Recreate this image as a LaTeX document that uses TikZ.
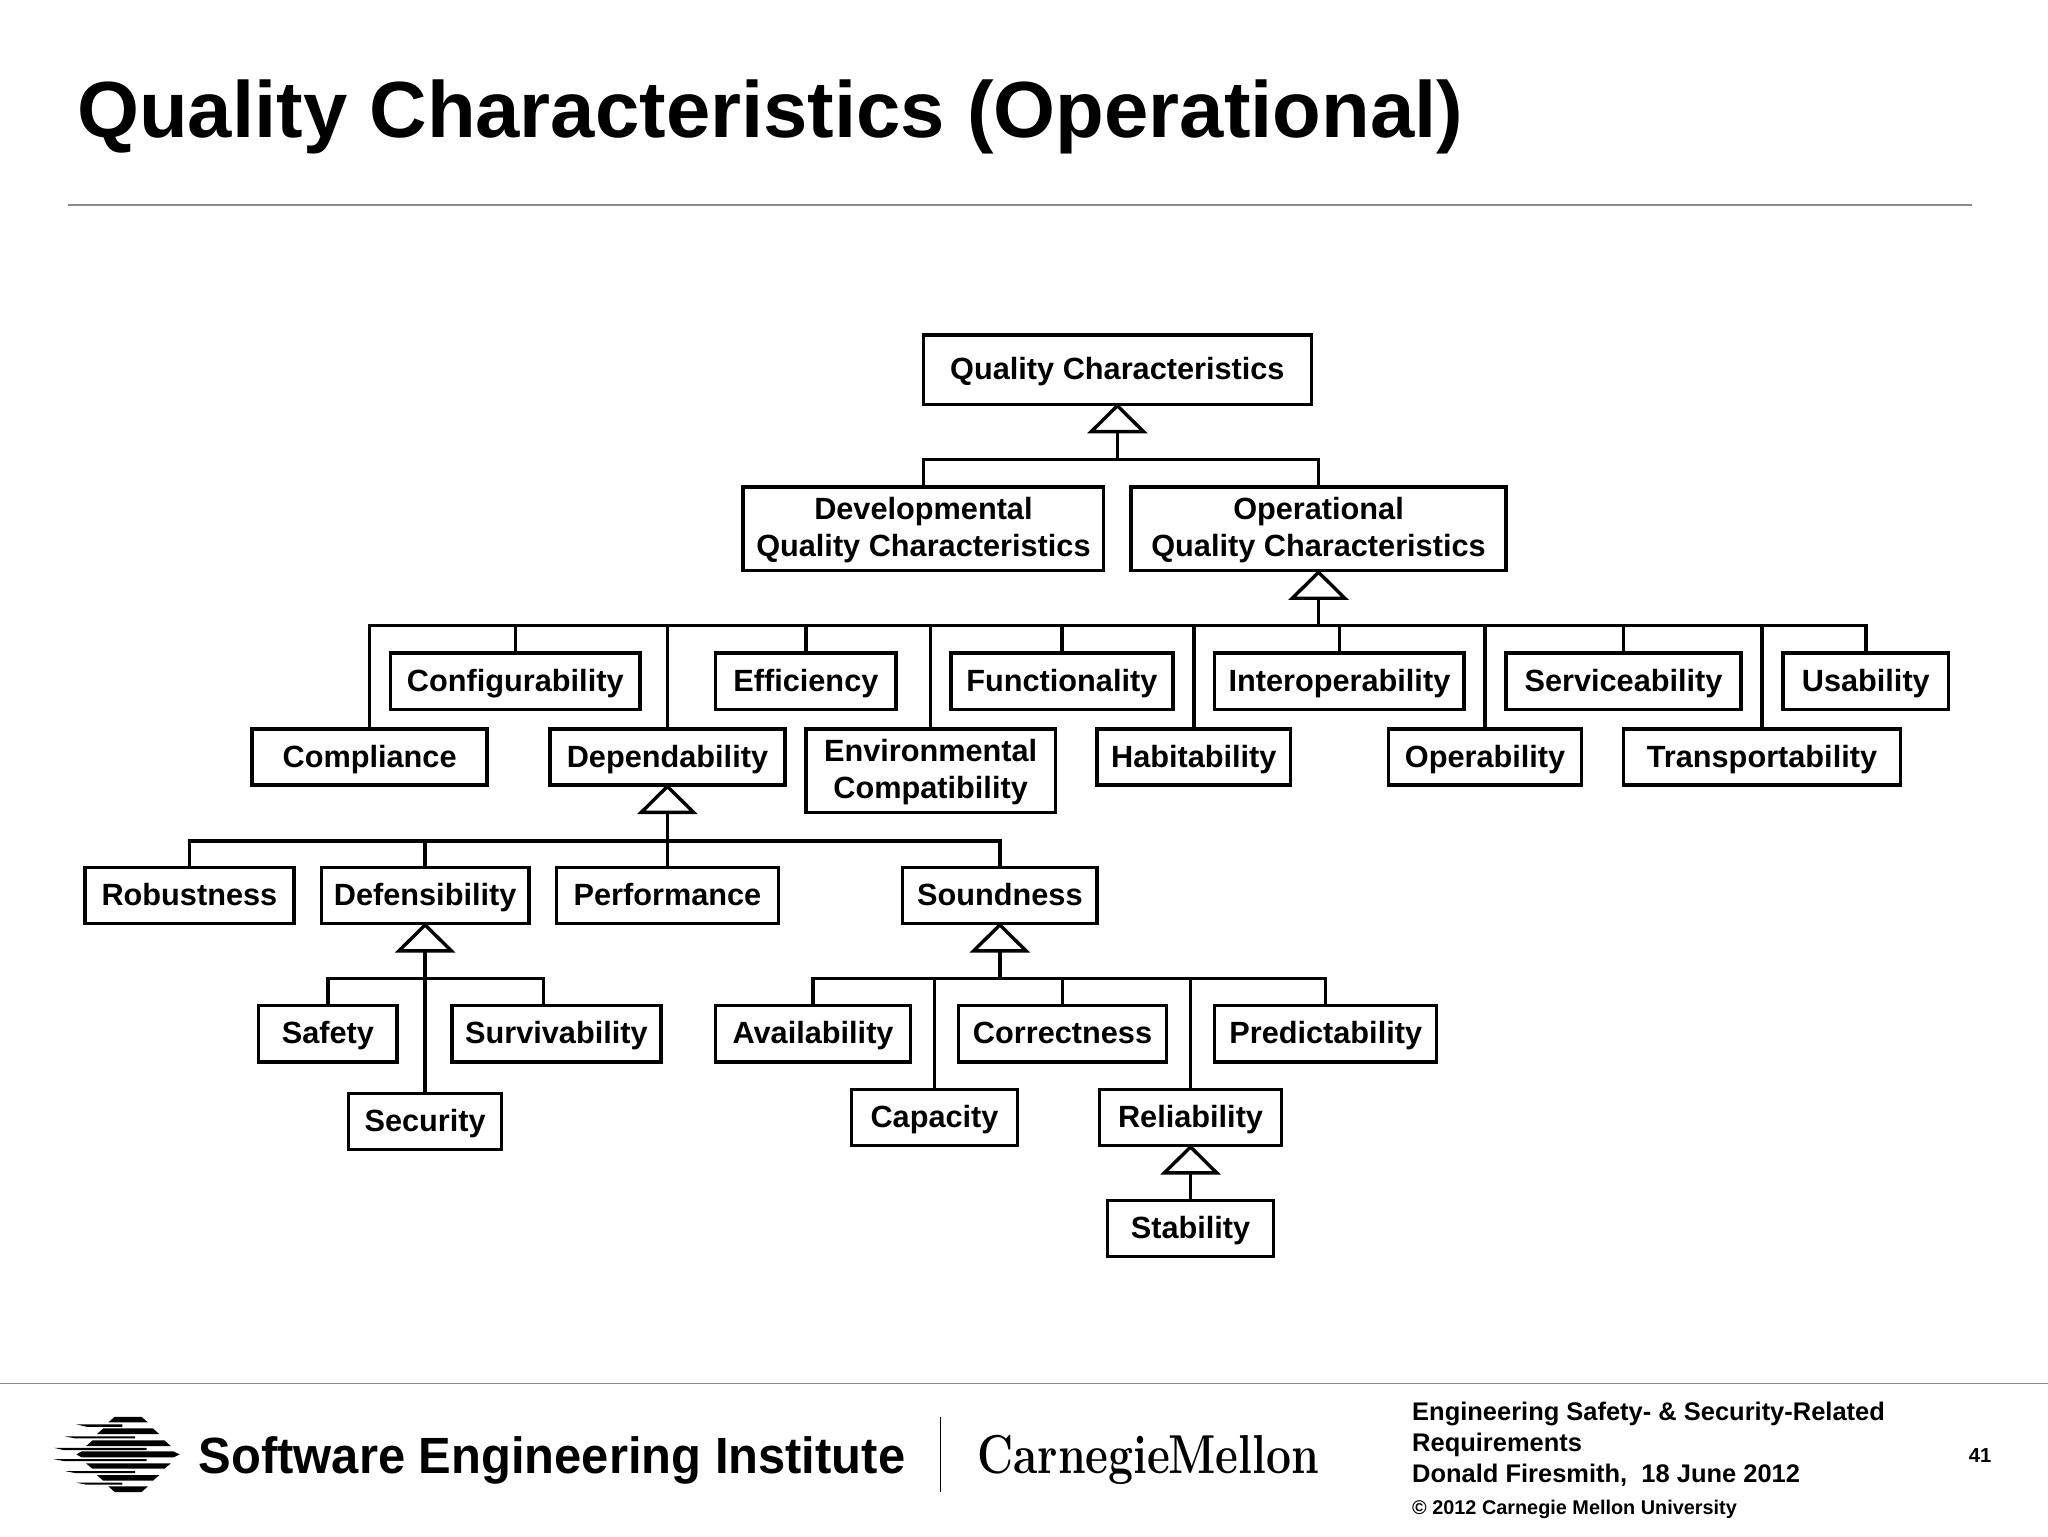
\documentclass[tikz,border=0pt]{standalone}
\usepackage{fontspec}
\usetikzlibrary{arrows.meta}
\newfontfamily\boldsans{Liberation Sans}[BoldFont={Liberation Sans Bold}]
\tikzset{
    classbox/.style={draw, line width=2.6pt, inner sep=0pt, minimum height=43pt, align=center,
        text height=19.5pt, text depth=4pt, font=\boldsans\bfseries\fontsize{23.5}{28}\selectfont},
    classtwo/.style={draw, line width=2.6pt, inner sep=0pt, minimum height=64pt, align=center,
        text depth=3pt, font=\boldsans\bfseries\fontsize{23.5}{28}\selectfont},
    treeline/.style={line width=2.6pt},
    inherits/.style={line width=2.6pt, shorten >=-2pt, -{Triangle[open, length=23pt, width=46pt]}},
    footer/.style={inner sep=0pt, align=left, font=\boldsans\bfseries\fontsize{19.5}{23.5}\selectfont}
}
\begin{document}
\begin{tikzpicture}[x=1pt, y=-1pt]
        \useasboundingbox (0,0) rectangle (1568,1176);
        % title and rules
        \node[inner sep=0pt, anchor=base west, font=\boldsans\bfseries\fontsize{61}{61}\selectfont] (title) at (59,105) {Quality Characteristics (Operational)};
        \draw[black!45, line width=1pt] (52,157) -- (1510,157);
        \draw[black!45, line width=1pt] (0,1059) -- (1568,1059);
        % top of the tree
        \node[classbox, minimum width=297pt, minimum height=53pt] (quality) at (855.5,283) {Quality Characteristics};
        \node[classtwo, minimum width=276pt] (developmental) at (707,405) {Developmental\\Quality Characteristics};
        \node[classtwo, minimum width=287pt] (operational) at (1009.5,405) {Operational\\Quality Characteristics};
        % upper row
        \node[classbox, minimum width=191pt] (configurability) at (394.5,521.5) {Configurability};
        \node[classbox, minimum width=138pt] (efficiency) at (617,521.5) {Efficiency};
        \node[classbox, minimum width=170pt] (functionality) at (813,521.5) {Functionality};
        \node[classbox, minimum width=191pt] (interoperability) at (1025.5,521.5) {Interoperability};
        \node[classbox, minimum width=180pt] (serviceability) at (1243,521.5) {Serviceability};
        \node[classbox, minimum width=127pt] (usability) at (1428.5,521.5) {Usability};
        % lower row
        \node[classbox, minimum width=180pt] (compliance) at (283,579.5) {Compliance};
        \node[classbox, minimum width=180pt] (dependability) at (511,579.5) {Dependability};
        \node[classtwo, minimum width=191pt] (environmental) at (712.5,590) {Environmental\\Compatibility};
        \node[classbox, minimum width=148pt] (habitability) at (914,579.5) {Habitability};
        \node[classbox, minimum width=148pt] (operability) at (1137,579.5) {Operability};
        \node[classbox, minimum width=212pt] (transportability) at (1349,579.5) {Transportability};
        % dependability
        \node[classbox, minimum width=160pt] (robustness) at (145,685.5) {Robustness};
        \node[classbox, minimum width=159pt] (defensibility) at (325.5,685.5) {Defensibility};
        \node[classbox, minimum width=170pt] (performance) at (511,685.5) {Performance};
        \node[classbox, minimum width=149pt] (soundness) at (765.5,685.5) {Soundness};
        % defensibility and soundness
        \node[classbox, minimum width=106pt] (safety) at (251,791.5) {Safety};
        \node[classbox, minimum width=160pt] (survivability) at (426,791.5) {Survivability};
        \node[classbox, minimum width=117pt] (security) at (325.5,858.5) {Security};
        \node[classbox, minimum width=149pt] (availability) at (622.5,791.5) {Availability};
        \node[classbox, minimum width=159pt] (correctness) at (813.5,791.5) {Correctness};
        \node[classbox, minimum width=170pt] (predictability) at (1015,791.5) {Predictability};
        \node[classbox, minimum width=127pt] (capacity) at (715.5,855.5) {Capacity};
        \node[classbox, minimum width=139pt] (reliability) at (911.5,855.5) {Reliability};
        \node[classbox, minimum width=127pt] (stability) at (911.5,940.5) {Stability};
        % junctions on the horizontal lines
        \coordinate (busquality) at (855.5,352);
        \coordinate (busoperational) at (1009.5,479);
        \coordinate (busdependability) at (511,644);
        \coordinate (busdefensibility) at (325.5,749);
        \coordinate (bussoundness) at (765.5,749);
        \coordinate (survivabilitytop) at (416,770);
        % connectors
        \foreach \child in {developmental,operational}
            \draw[treeline] (\child.north) |- (busquality);
        \foreach \child in {configurability,efficiency,functionality,interoperability,serviceability,usability,compliance,dependability,environmental,habitability,operability,transportability}
            \draw[treeline] (\child.north) |- (busoperational);
        \foreach \child in {robustness,defensibility,performance,soundness}
            \draw[treeline] (\child.north) |- (busdependability);
        \foreach \child in {safety,survivabilitytop}
            \draw[treeline] (\child |- survivabilitytop) |- (busdefensibility);
        \draw[treeline] (security.north) -- (busdefensibility);
        \foreach \child in {availability,capacity,correctness,reliability,predictability}
            \draw[treeline] (\child.north) |- (bussoundness);
        \draw[inherits] (busquality) -- (quality.south);
        \draw[inherits] (busoperational) -- (operational.south);
        \draw[inherits] (busdependability) -- (dependability.south);
        \draw[inherits] (busdefensibility) -- (defensibility.south);
        \draw[inherits] (bussoundness) -- (soundness.south);
        \draw[inherits] (stability.north) -- (reliability.south);
        % logo
        \begin{scope}[shift={(0,1049)}, x=0.488pt, y=-0.255pt]
            \foreach \ya/\yb/\xa/\xb/\xc/\xd in {140/157/180/222/170/232, 175/192/162/240/152/250, 211/228/145/258/135/268, 280/296/135/268/145/258, 315/332/152/250/162/240, 349/366/170/232/180/222}
                \fill (\xa,\ya) -- (\xb,\ya) -- (\xd,\yb) -- (\xc,\yb) -- cycle;
            \fill (128,244) -- (272,244) -- (282,253) -- (272,262) -- (128,262) -- (120,253) -- cycle;
            \foreach \ya/\yb/\xa/\xb in {163/170/120/192, 199/205/102/212, 233/240/84/230, 267/273/84/230, 303/309/102/212, 338/344/120/192}
                \fill (\xa,\ya) -- (\xb,\ya) -- (\xb,\yb) -- (\xa+16,\yb) -- cycle;
        \end{scope}
        \node[inner sep=0pt, anchor=base west, xscale=0.96, font=\boldsans\bfseries\fontsize{39}{39}\selectfont] (sei) at (152,1128) {Software Engineering Institute};
        \draw[line width=1.2pt] (720,1085) -- (720,1142);
        \node[inner sep=0pt, anchor=base west, xscale=0.81, font=\bfseries\fontsize{42}{42}\selectfont] (cmu) at (748,1128) {Carnegie\kern-2pt Mellon};
        % footer text
        \node[footer, anchor=north west] (talk) at (1081,1073.5) {Engineering Safety- \& Security-Related\\Requirements\\Donald Firesmith,\ \ 18 June 2012};
        \node[inner sep=0pt, anchor=west, font=\boldsans\bfseries\fontsize{15.2}{15.2}\selectfont] (copyright) at (1081,1156) {© 2012 Carnegie Mellon University};
        \node[inner sep=0pt, font=\boldsans\bfseries\fontsize{15.5}{15.5}\selectfont] (pagenumber) at (1516,1114) {41};
    \end{tikzpicture}
\end{document}
